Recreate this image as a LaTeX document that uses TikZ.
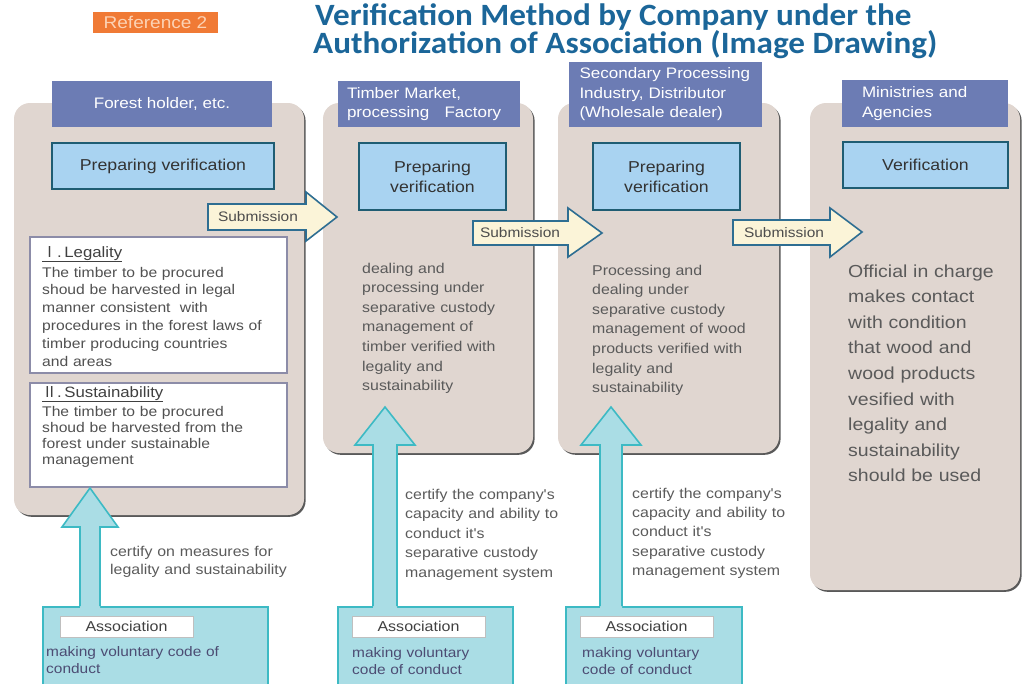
\documentclass[tikz,border=0pt]{standalone}
\usepackage{fontspec}
\setmainfont{Liberation Sans}
\newfontfamily\bodyf[FakeStretch=1.12]{Liberation Sans}
\newfontfamily\titlef[FakeStretch=1.07]{Carlito}
\newfontfamily\cjkf{Noto Sans CJK JP}
\usetikzlibrary{shadows}

\definecolor{colfill}{HTML}{E0D6D0}
\definecolor{hdrblue}{HTML}{6C7CB4}
\definecolor{prepfill}{HTML}{A9D3F1}
\definecolor{prepline}{HTML}{1F5D73}
\definecolor{assocfill}{HTML}{AADDE5}
\definecolor{assocline}{HTML}{3DBAC4}
\definecolor{subfill}{HTML}{FBF4D8}
\definecolor{subline}{HTML}{2E6E92}
\definecolor{refor}{HTML}{F07A35}
\definecolor{reftxt}{HTML}{FCD2B4}
\definecolor{titleblue}{HTML}{1B6699}
\definecolor{txtgray}{HTML}{5A5A5A}
\definecolor{boxline}{HTML}{8C8CA8}

\tikzset{
  colbox/.style={fill=colfill, rounded corners=16pt, inner sep=0pt,
    drop shadow={shadow xshift=1.6pt, shadow yshift=-1.8pt, fill=black!65, opacity=1}},
  hdr/.style={fill=hdrblue, text=white, inner sep=0pt,
    font=\bodyf\fontsize{15.2}{19.5}\selectfont},
  prep/.style={fill=prepfill, draw=prepline, line width=1.6pt, text=black!80,
    inner sep=0pt, align=center, font=\bodyf\fontsize{15.8}{20}\selectfont},
  critbox/.style={fill=white, draw=boxline, line width=1.1pt, inner sep=0pt},
  bodytxt/.style={text=txtgray, inner sep=0pt, anchor=base west, align=left,
    font=\bodyf\fontsize{14.2}{19.6}\selectfont},
  crittxt/.style={text=txtgray!90!black, inner sep=0pt, anchor=base west, align=left,
    font=\bodyf\fontsize{14}{17.8}\selectfont},
  crithead/.style={text=black!75, inner sep=0pt, anchor=base west,
    font=\bodyf\fontsize{15}{18}\selectfont},
  subarrow/.style={fill=subfill, draw=subline, line width=1.6pt, line join=miter},
  subtxt/.style={text=black!70, inner sep=0pt, font=\bodyf\fontsize{13.8}{16}\selectfont},
  uparrow/.style={draw=assocline, line width=1.6pt, line join=miter},
  assocbox/.style={fill=assocfill, draw=assocline, line width=1.6pt, inner sep=0pt},
  assoclabel/.style={fill=white, draw=black!25, line width=0.6pt, inner sep=0pt,
    text=black!75, font=\bodyf\fontsize{14.3}{16}\selectfont},
  assoctxt/.style={text=txtgray!85!blue, inner sep=0pt, anchor=base west, align=left,
    font=\bodyf\fontsize{13.8}{17.5}\selectfont},
  titletxt/.style={anchor=base west, inner sep=0pt, text=titleblue,
    font=\titlef\bfseries\fontsize{31}{31}\selectfont}
}

\begin{document}
\begin{tikzpicture}[x=1pt,y=-1pt]
\useasboundingbox (0,0) rectangle (1024,683);
\clip (0,0) rectangle (1024,683);

% title
\node[fill=refor, text=reftxt, minimum width=125, minimum height=21, inner sep=0pt,
  font=\bodyf\fontsize{17}{17}\selectfont] (ref) at (155.5,22.5) {Reference 2};
\node[titletxt] (title1) at (315,25) {Verification Method by Company under the};
\node[titletxt] (title2) at (313,53) {Authorization of Association (Image Drawing)};

% columns
\node[colbox, minimum width=290, minimum height=412] (c1) at (159,309) {};
\node[colbox, minimum width=210, minimum height=350] (c2) at (428,278) {};
\node[colbox, minimum width=221, minimum height=350] (c3) at (668.5,278) {};
\node[colbox, minimum width=210, minimum height=487] (c4) at (915,346.5) {};

% headers
\node[hdr, minimum width=220, minimum height=46, align=center] (h1) at (162,104)
  {Forest holder, etc.};
\node[hdr, minimum width=182, minimum height=46, text width=164, align=left] (h2) at (429,104)
  {Timber Market,\\processing \ \ Factory};
\node[hdr, minimum width=193, minimum height=65, text width=172, align=left] (h3) at (665.5,94.5)
  {Secondary Processing\\Industry, Distributor\\(Wholesale dealer)};
\node[hdr, minimum width=166, minimum height=47, text width=126, align=left] (h4) at (925,103.5)
  {Ministries and\\Agencies};

% preparing boxes
\node[prep, minimum width=222, minimum height=46] (p1) at (163,166) {Preparing verification};
\node[prep, minimum width=147, minimum height=67] (p2) at (432.5,176.5) {Preparing\\verification};
\node[prep, minimum width=147, minimum height=67] (p3) at (666.5,176.5) {Preparing\\verification};
\node[prep, minimum width=165, minimum height=46] (p4) at (925.5,165) {Verification};

% criteria boxes
\node[critbox, minimum width=257, minimum height=136] (leg) at (158.5,305) {};
\node[critbox, minimum width=257, minimum height=104] (sus) at (158.5,435) {};
\node[crithead] (legt) at (42,257) {\underline{{\cjkf Ⅰ}.\,Legality}};
\node[crittxt, text width=240] (legx) at (42,277)
  {The timber to be procured\\shoud be harvested in legal\\manner consistent \ with\\procedures in the forest laws of\\timber producing countries\\and areas};
\node[crithead] (sust) at (42,397) {\underline{{\cjkf Ⅱ}.\,Sustainability}};
\node[crittxt, text width=240, font=\bodyf\fontsize{14}{16.3}\selectfont] (susx) at (42,416)
  {The timber to be procured\\shoud be harvested from the\\forest under sustainable\\management};

% column texts
\node[bodytxt, text width=160] (t2) at (362,273)
  {dealing and\\processing under\\separative custody\\management of\\timber verified with\\legality and\\sustainability};
\node[bodytxt, text width=175] (t3) at (592,275)
  {Processing and\\dealing under\\separative custody\\management of wood\\products verified with\\legality and\\sustainability};
\node[bodytxt, text width=170, font=\bodyf\fontsize{17.4}{25.6}\selectfont] (t4) at (848,277)
  {Official in charge\\makes contact\\with condition\\that wood and\\wood products\\vesified with\\legality and\\sustainability\\should be used};

% submission arrows
\draw[subarrow] (208,204) -- (306,204) -- (306,192) -- (337,217) -- (306,241) -- (306,230) -- (208,230) -- cycle;
\node[subtxt] (s1) at (258,217) {Submission};
\draw[subarrow] (473,221) -- (568,221) -- (568,208) -- (602,233) -- (568,257) -- (568,245) -- (473,245) -- cycle;
\node[subtxt] (s2) at (520,233) {Submission};
\draw[subarrow] (733,220) -- (830,220) -- (830,208) -- (862,232) -- (830,257) -- (830,245) -- (733,245) -- cycle;
\node[subtxt] (s3) at (784,232.5) {Submission};

% association boxes
\node[assocbox, minimum width=225, minimum height=88] (a1) at (155.5,651) {};
\node[assocbox, minimum width=175, minimum height=88] (a2) at (425.5,651) {};
\node[assocbox, minimum width=176, minimum height=88] (a3) at (654,651) {};
\node[assoclabel, minimum width=133, minimum height=21] (l1) at (126.5,626.5) {Association};
\node[assoclabel, minimum width=133, minimum height=21] (l2) at (418.5,626.5) {Association};
\node[assoclabel, minimum width=133, minimum height=21] (l3) at (646.5,626.5) {Association};
\node[assoctxt, text width=210] (m1) at (46,656) {making voluntary code of\\conduct};
\node[assoctxt, text width=150] (m2) at (352,657) {making voluntary\\code of conduct};
\node[assoctxt, text width=150] (m3) at (582,657) {making voluntary\\code of conduct};

% upward arrows
\coordinate (u1) at (90,488);
\coordinate (u2) at (385,407);
\coordinate (u3) at (611,407);
\fill[assocfill] (80,609) -- (80,527) -- (62,527) -- (u1) -- (118,527) -- (100,527) -- (100,609) -- cycle;
\draw[uparrow] (80,606.2) -- (80,527) -- (62,527) -- (u1) -- (118,527) -- (100,527) -- (100,606.2);
\fill[assocfill] (373,609) -- (373,445) -- (355,445) -- (u2) -- (415,445) -- (397,445) -- (397,609) -- cycle;
\draw[uparrow] (373,606.2) -- (373,445) -- (355,445) -- (u2) -- (415,445) -- (397,445) -- (397,606.2);
\fill[assocfill] (600,609) -- (600,445) -- (581,445) -- (u3) -- (641,445) -- (622,445) -- (622,609) -- cycle;
\draw[uparrow] (600,606.2) -- (600,445) -- (581,445) -- (u3) -- (641,445) -- (622,445) -- (622,606.2);

% arrow labels
\node[bodytxt, text width=190, font=\bodyf\fontsize{14.2}{18.5}\selectfont] (k1) at (110,556)
  {certify on measures for\\legality and sustainability};
\node[bodytxt, text width=170, font=\bodyf\fontsize{14.2}{19.5}\selectfont] (k2) at (405,499)
  {certify the company's\\capacity and ability to\\conduct it's\\separative custody\\management system};
\node[bodytxt, text width=170, font=\bodyf\fontsize{14.2}{19.4}\selectfont] (k3) at (632,498)
  {certify the company's\\capacity and ability to\\conduct it's\\separative custody\\management system};
\end{tikzpicture}
\end{document}
